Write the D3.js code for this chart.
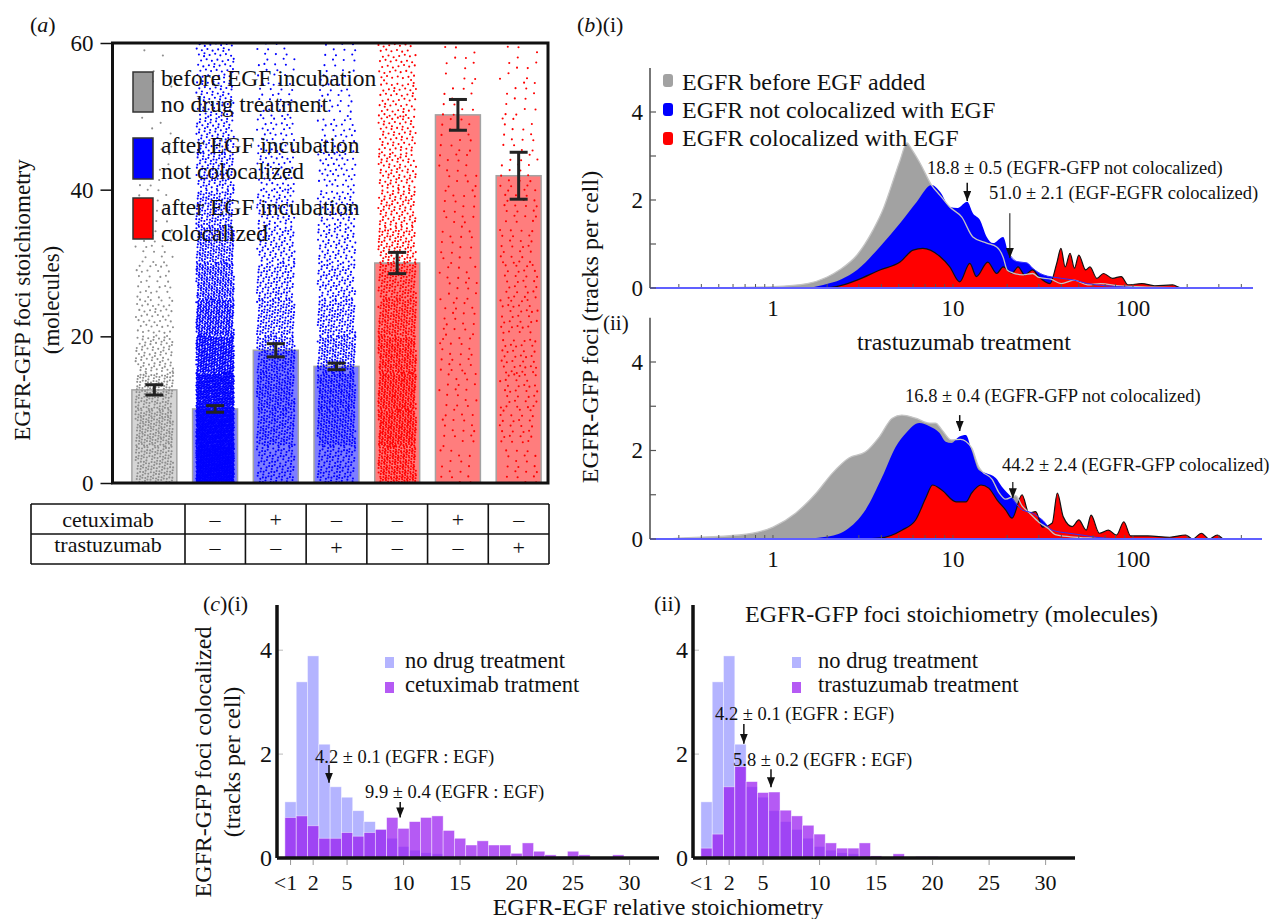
<!DOCTYPE html>
<html>
<head>
<meta charset="utf-8">
<script src="https://cdn.jsdelivr.net/npm/d3@7"></script>
<style>
  body { margin: 0; background: #fff; }
  svg text { font-family: "Liberation Serif", "Times New Roman", "DejaVu Serif", serif; fill: #111; }
</style>
</head>
<body>
<div id="fig"></div>
<script>
// ---------- data: panel (a) ----------
let conditions = ["before", "noDrug", "cetux", "trast", "colNoDrug", "colCetux", "colTrast"];
let conditionColor = ["gray", "blue", "blue", "blue", "red", "red", "red"];
let barMeans = [12.7, 10.1, 18.1, 15.9, 30.0, 50.2, 41.9];
let barErrors = [0.7, 0.45, 0.9, 0.45, 1.45, 2.1, 3.2];

// number of foci dots in each 5-molecule band (0-5, 5-10, ... 55-60)
let dotsBefore = [150, 175, 140, 80, 50, 32, 22, 15, 10, 7, 5, 4];
let dotsNoDrug = [900, 780, 600, 440, 330, 250, 185, 140, 110, 85, 68, 56];
let dotsCetux = [110, 165, 190, 180, 150, 115, 90, 70, 52, 40, 30, 22];
let dotsTrast = [120, 200, 215, 185, 140, 100, 78, 60, 46, 36, 27, 20];
let dotsColNoDrug = [230, 280, 270, 240, 190, 145, 110, 90, 75, 65, 55, 48];
let dotsColCetux = [15, 18, 18, 20, 18, 18, 16, 16, 16, 14, 13, 11];
let dotsColTrast = [20, 27, 32, 36, 32, 28, 24, 22, 18, 15, 13, 11];
let dotCounts = [dotsBefore, dotsNoDrug, dotsCetux, dotsTrast, dotsColNoDrug, dotsColCetux, dotsColTrast];

let cetuximabSigns = ["–", "+", "–", "–", "+", "–"];
let trastuzumabSigns = ["–", "–", "+", "–", "–", "+"];

// ---------- data: panel (b), [stoichiometry, tracks per cell] ----------
let grayI = [[0.3,0],[0.6,0.01],[1.0,0.03],[1.55,0.1],[2.0,0.25],[2.36,0.42],[2.93,0.75],[3.6,1.32],[4.1,1.8],[4.47,2.23],[5.08,2.9],[5.55,3.3],[5.9,3.15],[6.56,2.84],[7.6,2.34],[8.5,2.1],[9.6,1.84],[11.2,1.61],[12.9,1.16],[15.4,1.02],[17.5,0.93],[19,0.7],[20,0.41],[21.6,0.34],[24.5,0.3],[27.7,0.33],[30,0.24],[35,0.2],[40,0.1],[47,0.18],[56,0.07],[66,0.1],[84,0.05],[125,0.02],[200,0],[464,0]];
let blueI = [[0.3,0],[1.5,0],[1.9,0.07],[2.4,0.2],[2.93,0.41],[3.93,0.94],[5.08,1.47],[6.3,1.96],[7.6,2.34],[8.5,2.18],[9.6,1.84],[10.6,1.82],[12,1.96],[12.9,1.7],[14.1,1.55],[15.4,1.16],[16.7,1.02],[19,1.16],[20.3,0.8],[22.7,0.6],[25.8,0.57],[27.7,0.45],[31.7,0.3],[40,0.22],[47,0.18],[56,0.1],[71,0.05],[94,0.02],[130,0],[464,0]];
let redI = [[0.3,0],[1.9,0],[2.4,0.06],[2.93,0.18],[3.93,0.41],[5.08,0.59],[6.0,0.86],[6.8,0.9],[8.5,0.71],[9.6,0.48],[10.9,0.14],[12.4,0.56],[13.5,0.26],[15.6,0.59],[17.5,0.33],[19,0.48],[21.3,0.34],[23,0.48],[25,0.3],[27.7,0.41],[29.9,0.26],[34.6,0.1],[37.7,0.56],[39.8,0.9],[42,0.48],[44.7,0.79],[47.3,0.45],[50,0.75],[54.6,0.41],[57.7,0.48],[63,0.22],[68.6,0.33],[77,0.22],[86,0.26],[94,0.07],[112,0.1],[132,0.05],[166,0.07],[186,0],[464,0]];

let grayII = [[0.25,0],[0.3,0.02],[0.65,0.09],[1.0,0.27],[1.34,0.59],[1.74,1.04],[2.14,1.49],[2.64,1.83],[3.27,1.97],[3.9,2.31],[4.6,2.73],[5.2,2.8],[6.2,2.73],[7.4,2.62],[8.0,2.62],[8.7,2.46],[9.8,2.24],[11.0,2.25],[12.7,2.06],[13.9,1.63],[14.5,1.53],[16.5,1.35],[18,1.05],[19.6,0.9],[22.3,0.98],[24.2,0.75],[26.4,0.6],[30,0.38],[34,0.23],[37,0.1],[45,0.05],[60,0.02],[100,0],[495,0]];
let blueII = [[0.3,0],[1.34,0],[1.97,0.05],[2.54,0.2],[3.27,0.66],[4.04,1.4],[4.8,2.08],[5.5,2.4],[6.5,2.62],[7.4,2.55],[8.4,2.4],[9.1,2.2],[9.8,2.17],[10.8,2.31],[11.8,2.35],[12.7,2.0],[13.9,1.56],[15.2,1.49],[17.3,1.38],[18.7,1.18],[21.3,0.93],[24.2,0.66],[27.5,0.59],[31.4,0.43],[35.6,0.2],[44,0.13],[52,0.09],[62,0.04],[77,0.01],[100,0],[495,0]];
let redII = [[0.3,0],[2.9,0],[3.9,0.02],[5.2,0.2],[6.2,0.43],[7.1,0.95],[7.7,1.22],[8.7,1.1],[10.4,0.84],[11.8,0.84],[12.7,1.04],[14.3,1.22],[15.8,1.15],[17.6,0.88],[19.6,0.66],[21.3,0.47],[24.2,1.0],[26.4,0.59],[28.8,0.62],[31.4,0.27],[35.6,0.36],[38,1.04],[41,0.5],[46,0.28],[50,0.43],[55,0.2],[58.5,0.54],[65,0.13],[73,0.2],[81,0.09],[89,0.39],[97,0.07],[121,0.07],[160,0.04],[196,0.09],[215,0],[240,0.13],[265,0],[294,0.09],[320,0],[495,0]];

// ---------- data: panel (c), tracks per cell per stoichiometry bin (<1, 1, 2, ...) ----------
let noDrugHist = [1.08, 3.39, 3.89, 2.19, 1.37, 1.17, 0.91, 0.70, 0.55, 0.38, 0.22, 0.15, 0.1, 0.08, 0.03];
let cetuxHist = [0.78, 0.81, 0.62, 0.38, 0.38, 0.49, 0.42, 0.49, 0.55, 0.78, 0.57, 0.70, 0.78, 0.81, 0.53, 0.38, 0.25, 0.33, 0.25, 0.25, 0.09, 0.29, 0.13, 0.06, 0.03, 0.13, 0.06, 0.01, 0, 0.06, 0.02];
let trastHist = [0.19, 0.46, 1.37, 1.76, 1.47, 1.26, 1.27, 0.92, 0.81, 0.63, 0.46, 0.29, 0.19, 0.19, 0.29, 0.04, 0.01, 0.08, 0.02, 0.03, 0.03, 0.02, 0.02, 0.02];
let histTicks = [0, 2, 5, 10, 15, 20, 25, 30];
let histTickLabels = ["<1", "2", "5", "10", "15", "20", "25", "30"];

// ---------- svg ----------
let svg = d3.select("#fig").append("svg")
  .attr("width", 1274).attr("height", 919)
  .attr("font-family", "Liberation Serif, Times New Roman, serif");

svg.append("defs").append("marker")
  .attr("id", "arrow")
  .attr("viewBox", "0 0 10 8")
  .attr("refX", 10).attr("refY", 4)
  .attr("markerWidth", 10).attr("markerHeight", 8)
  .attr("markerUnits", "userSpaceOnUse")
  .attr("orient", "auto")
  .append("path").attr("d", "M0,0 L10,4 L0,8 Z").attr("fill", "#111");

// panel tag like (a), (b)(i)
function panelTag(x, y, letter, suffix) {
  let t = svg.append("text").attr("x", x).attr("y", y).attr("font-size", 22);
  t.append("tspan").text("(");
  if (letter) t.append("tspan").attr("font-style", "italic").text(letter);
  t.append("tspan").text(letter ? ")" + suffix : suffix);
}

function vLabel(x, y, txt, size) {
  svg.append("text")
    .attr("transform", `translate(${x},${y}) rotate(-90)`)
    .attr("text-anchor", "middle")
    .attr("dominant-baseline", "central")
    .attr("font-size", size)
    .text(txt);
}

function arrow(x, y0, y1, w) {
  svg.append("line")
    .attr("x1", x).attr("x2", x).attr("y1", y0).attr("y2", y1)
    .attr("stroke", "#111").attr("stroke-width", w)
    .attr("marker-end", "url(#arrow)");
}

// =============== panel (a) ===============
let aLeft = 112.5, aRight = 548, aTop = 43, aBottom = 483;
let aY = d3.scaleLinear().domain([0, 60]).range([aBottom, aTop]);
let aX = d3.scaleBand().domain(conditions).range([124, 549]).paddingInner(0.26).paddingOuter(0.13);
let fills = { gray: "#d5d5d5", blue: "#7d7dff", red: "#ff7d7d" };
let dotFills = { gray: "#8e8e8e", blue: "#0000ff", red: "#ff0000" };

panelTag(30, 32, "a", "");

let aG = svg.append("g");
svg.append("clipPath").attr("id", "aClip")
  .append("rect").attr("x", aLeft).attr("y", aTop).attr("width", aRight - aLeft).attr("height", aBottom - aTop);

aG.selectAll(".bar")
  .data(conditions)
  .join("rect")
  .attr("x", d => aX(d))
  .attr("width", aX.bandwidth())
  .attr("y", (d, i) => aY(barMeans[i]))
  .attr("height", (d, i) => aY(0) - aY(barMeans[i]))
  .attr("fill", (d, i) => fills[conditionColor[i]])
  .attr("stroke", "#a3a3a3")
  .attr("stroke-width", 1.5);

// jittered foci dots: low-discrepancy spread inside each band, one running sequence per bar
let dotG = aG.append("g").attr("clip-path", "url(#aClip)");
conditions.forEach((c, b) => {
  let pts = [];
  let k = 0;
  dotCounts[b].forEach((n, j) => {
    for (let i = 0; i < n; i++) {
      k++;
      let u = (0.37 + k * 0.7548776662 + b * 0.13) % 1;
      let w = (0.61 + k * 0.5698402910) % 1;
      pts.push([u, 5 * j + 5 * w]);
    }
  });
  let cx = aX(c) + aX.bandwidth() / 2;
  dotG.selectAll(".d" + b)
    .data(pts)
    .join("circle")
    .attr("cx", d => cx + (d[0] - 0.5) * aX.bandwidth() * 0.84)
    .attr("cy", d => aY(d[1]))
    .attr("r", 1.05)
    .attr("fill", dotFills[conditionColor[b]]);
});

// error bars
conditions.forEach((c, i) => {
  let cx = aX(c) + aX.bandwidth() / 2;
  let lo = aY(barMeans[i] - barErrors[i]), hi = aY(barMeans[i] + barErrors[i]);
  let eg = aG.append("g").attr("stroke", "#222").attr("stroke-width", 3);
  eg.append("line").attr("x1", cx).attr("x2", cx).attr("y1", lo).attr("y2", hi);
  eg.append("line").attr("x1", cx - 9).attr("x2", cx + 9).attr("y1", lo).attr("y2", lo);
  eg.append("line").attr("x1", cx - 9).attr("x2", cx + 9).attr("y1", hi).attr("y2", hi);
});

aG.append("rect")
  .attr("x", aLeft).attr("y", aTop)
  .attr("width", aRight - aLeft).attr("height", aBottom - aTop)
  .attr("fill", "none").attr("stroke", "#111").attr("stroke-width", 3);

let aAxis = aG.append("g")
  .attr("transform", `translate(${aLeft},0)`)
  .call(d3.axisLeft(aY).tickValues([0, 20, 40, 60]).tickSize(12).tickPadding(7));
aAxis.select(".domain").remove();
aAxis.selectAll("line").attr("stroke", "#111").attr("stroke-width", 1.5);
aAxis.selectAll("text").attr("font-size", 23).attr("fill", "#111");

vLabel(22, 300, "EGFR-GFP foci stoichiometry", 23);
vLabel(51, 300, "(molecules)", 23);

// legend (a)
let aLegend = [
  { color: "#9a9a9a", y0: 72, y1: 112, lines: ["before EGF incubation", "no drug treatment"], base: 86 },
  { color: "#0000ff", y0: 138, y1: 179, lines: ["after EGF incubation", "not colocalized"], base: 153 },
  { color: "#ff0000", y0: 198, y1: 239, lines: ["after EGF incubation", "colocalized"], base: 215 }
];
aLegend.forEach(l => {
  aG.append("rect").attr("x", 133).attr("y", l.y0).attr("width", 20).attr("height", l.y1 - l.y0)
    .attr("fill", l.color).attr("stroke", "#333").attr("stroke-width", 1.5);
  l.lines.forEach((t, k) => {
    aG.append("text").attr("x", 161).attr("y", l.base + k * 26).attr("font-size", 23.5).text(t);
  });
});

// drug table
let tg = svg.append("g").attr("stroke", "#111").attr("stroke-width", 1.6);
let tLeft = 31, tMid = 185, tRight = 549, tRows = [504, 534, 564];
tRows.forEach(y => tg.append("line").attr("x1", tLeft).attr("x2", tRight).attr("y1", y).attr("y2", y));
let colEdges = [tLeft, tMid].concat(conditions.slice(1).map(c => aX(c) + aX.bandwidth() / 2 + aX.step() / 2));
colEdges.forEach(x => tg.append("line").attr("x1", x).attr("x2", x).attr("y1", tRows[0]).attr("y2", tRows[2]));
svg.append("text").attr("x", 108).attr("y", 527).attr("text-anchor", "middle").attr("font-size", 22).text("cetuximab");
svg.append("text").attr("x", 108).attr("y", 552).attr("text-anchor", "middle").attr("font-size", 22).text("trastuzumab");
conditions.slice(1).forEach((c, i) => {
  let cx = aX(c) + aX.bandwidth() / 2;
  svg.append("text").attr("x", cx).attr("y", 527).attr("text-anchor", "middle").attr("font-size", 22).text(cetuximabSigns[i]);
  svg.append("text").attr("x", cx).attr("y", 555).attr("text-anchor", "middle").attr("font-size", 22).text(trastuzumabSigns[i]);
});

// =============== panel (b) ===============
let bX = d3.scaleLog().domain([0.2074, 495]).range([650, 1258]);

function drawDist(cfg) {
  let g = svg.append("g");
  let y = d3.scaleLinear().domain([0, 5]).range([cfg.zero, cfg.zero - 5 * cfg.unit]);
  let area = d3.area().x(d => bX(d[0])).y0(y(0)).y1(d => y(d[1])).curve(d3.curveMonotoneX);
  let line = d3.line().x(d => bX(d[0])).y(d => y(d[1])).curve(d3.curveMonotoneX);

  g.append("path").datum(cfg.gray).attr("d", area).attr("fill", "#a2a2a2");
  g.append("path").datum(cfg.blue).attr("d", area).attr("fill", "#0000ff");
  g.append("path").datum(cfg.red).attr("d", area).attr("fill", "#ff0000")
    .attr("stroke", "#111").attr("stroke-width", 1.2);
  g.append("path").datum(cfg.gray).attr("d", line).attr("fill", "none")
    .attr("stroke", "#c4c4c4").attr("stroke-width", 1.3);
  g.append("path").datum(cfg.blue.filter(d => d[0] > 20)).attr("d", line).attr("fill", "none")
    .attr("stroke", "#3030ff").attr("stroke-width", 1);

  // x axis (log)
  let minor = [];
  [0.1, 1, 10, 100].forEach(dec => d3.range(1, 10).forEach(k => {
    let v = dec * k;
    if (v >= 0.3 && v <= 400) minor.push(v);
  }));
  g.selectAll(".mt").data(minor).join("line")
    .attr("x1", d => bX(d)).attr("x2", d => bX(d))
    .attr("y1", cfg.zero).attr("y2", cfg.zero - 4)
    .attr("stroke", "#555").attr("stroke-width", 1);
  g.append("line").attr("x1", 650).attr("x2", cfg.axisEnd).attr("y1", cfg.zero).attr("y2", cfg.zero)
    .attr("stroke", "#6060ff").attr("stroke-width", 2);
  g.selectAll(".xl").data([1, 10, 100]).join("text")
    .attr("x", d => bX(d)).attr("y", cfg.zero + 28)
    .attr("text-anchor", "middle").attr("font-size", 23).text(d => d);

  // y axis
  g.append("line").attr("x1", 650).attr("x2", 650).attr("y1", cfg.zero).attr("y2", y(5))
    .attr("stroke", "#555").attr("stroke-width", 1.6);
  g.selectAll(".yt").data([0, 1, 2, 3, 4]).join("line")
    .attr("x1", 650).attr("x2", 656).attr("y1", d => y(d)).attr("y2", d => y(d))
    .attr("stroke", "#555").attr("stroke-width", 1.2);
  g.selectAll(".yl").data([0, 2, 4]).join("text")
    .attr("x", 643).attr("y", d => y(d)).attr("dominant-baseline", "central")
    .attr("text-anchor", "end").attr("font-size", 23).text(d => d);

  cfg.notes.forEach(n => {
    g.append("text").attr("x", n.tx).attr("y", n.ty).attr("font-size", 18.5).text(n.text);
    arrow(bX(n.at), y(n.from), y(n.to), n.w);
  });
  return y;
}

panelTag(577, 32, "b", "(i)");
drawDist({
  zero: 288, unit: 44, axisEnd: 1253, gray: grayI, blue: blueI, red: redI,
  notes: [
    { text: "18.8 ± 0.5 (EGFR-GFP not colocalized)", tx: 927, ty: 174, at: 12.0, from: 2.39, to: 1.98, w: 1.5 },
    { text: "51.0 ± 2.1 (EGF-EGFR colocalized)", tx: 989, ty: 199, at: 20.7, from: 1.7, to: 0.68, w: 1 }
  ]
});

// legend (b)
let bLegend = [["#a2a2a2", "EGFR before EGF added"], ["#0000ff", "EGFR not colocalized with EGF"], ["#ff0000", "EGFR colocalized with EGF"]];
bLegend.forEach((l, i) => {
  svg.append("rect").attr("x", 663).attr("y", 74 + i * 29).attr("width", 10).attr("height", 13).attr("rx", 3)
    .attr("fill", l[0]);
  svg.append("text").attr("x", 682).attr("y", 90 + i * 28).attr("font-size", 24).text(l[1]);
});
svg.append("text").attr("x", 964).attr("y", 350).attr("text-anchor", "middle").attr("font-size", 24).text("trastuzumab treatment");

svg.append("text").attr("x", 603).attr("y", 330).attr("font-size", 21).text("(ii)");
drawDist({
  zero: 539, unit: 44.25, axisEnd: 1262, gray: grayII, blue: blueII, red: redII,
  notes: [
    { text: "16.8 ± 0.4 (EGFR-GFP not colocalized)", tx: 905, ty: 402, at: 10.9, from: 2.8, to: 2.44, w: 1.5 },
    { text: "44.2 ± 2.4 (EGFR-GFP colocalized)", tx: 1002, ty: 471, at: 21.5, from: 1.29, to: 0.92, w: 1.2 }
  ]
});
vLabel(590, 327, "EGFR-GFP foci (tracks per cell)", 24);

// =============== panel (c) ===============
function drawHist(cfg) {
  let g = svg.append("g");
  let x = d3.scaleLinear().domain([-1.2, 32.6]).range([cfg.left, cfg.left + 382]);
  let y = d3.scaleLinear().domain([0, 4.87]).range([858, 605]);
  let w = x(1) - x(0);
  [[noDrugHist, "rgba(140,140,255,0.65)"], [cfg.drug, "rgba(150,20,240,0.7)"]].forEach(s => {
    g.append("g").selectAll("rect").data(s[0]).join("rect")
      .attr("x", (d, i) => x(i) - w / 2).attr("width", w)
      .attr("y", d => y(d)).attr("height", d => y(0) - y(d))
      .attr("fill", s[1]).attr("stroke", "rgba(255,255,255,0.6)").attr("stroke-width", 0.7);
  });
  g.selectAll(".xt").data(histTicks).join("line")
    .attr("x1", d => x(d)).attr("x2", d => x(d)).attr("y1", 860).attr("y2", 865)
    .attr("stroke", "#999").attr("stroke-width", 1);
  g.selectAll(".yt").data([2, 4]).join("line")
    .attr("x1", cfg.left).attr("x2", cfg.left + 6).attr("y1", d => y(d)).attr("y2", d => y(d))
    .attr("stroke", "#bbb").attr("stroke-width", 1);
  g.append("line").attr("x1", cfg.left).attr("x2", cfg.left + 382).attr("y1", 858).attr("y2", 858)
    .attr("stroke", "#111").attr("stroke-width", 3.5);
  g.append("line").attr("x1", cfg.left).attr("x2", cfg.left).attr("y1", 605).attr("y2", 858)
    .attr("stroke", "#111").attr("stroke-width", 3.5);
  g.selectAll(".xl").data(histTicks).join("text")
    .attr("x", (d, i) => x(d) - (i === 0 ? 5 : 0)).attr("y", 890)
    .attr("text-anchor", "middle").attr("font-size", 22).text((d, i) => histTickLabels[i]);
  g.selectAll(".yl").data([0, 2, 4]).join("text")
    .attr("x", cfg.left - 5).attr("y", d => y(d)).attr("dominant-baseline", "central")
    .attr("text-anchor", "end").attr("font-size", 24).text(d => d);

  // legend
  [["rgba(140,140,255,0.65)", "no drug treatment"], ["rgba(150,20,240,0.7)", cfg.drugName]].forEach((l, i) => {
    g.append("rect").attr("x", cfg.legX).attr("y", 657 + i * 25).attr("width", 9).attr("height", 11)
      .attr("fill", l[0]);
    g.append("text").attr("x", cfg.legX + cfg.legGap).attr("y", 668 + i * 24).attr("font-size", 22.5).text(l[1]);
  });

  cfg.notes.forEach(n => {
    g.append("text").attr("x", n.tx).attr("y", n.ty).attr("font-size", 18.5).text(n.text);
    arrow(x(n.at), y(n.from), y(n.to), 1.5);
  });
}

panelTag(203, 611, "c", "(i)");
drawHist({
  left: 277, drug: cetuxHist, drugName: "cetuximab tratment", legX: 385, legGap: 20,
  notes: [
    { text: "4.2 ± 0.1 (EGFR : EGF)", tx: 315, ty: 763, at: 3.4, from: 1.79, to: 1.45 },
    { text: "9.9 ± 0.4 (EGFR : EGF)", tx: 365, ty: 798, at: 9.7, from: 1.08, to: 0.78 }
  ]
});

svg.append("text").attr("x", 654).attr("y", 611).attr("font-size", 22).text("(ii)");
drawHist({
  left: 693, drug: trastHist, drugName: "trastuzumab treatment", legX: 792, legGap: 26,
  notes: [
    { text: "4.2 ± 0.1 (EGFR : EGF)", tx: 715, ty: 720, at: 3.3, from: 2.58, to: 2.2 },
    { text: "5.8 ± 0.2 (EGFR : EGF)", tx: 733, ty: 766, at: 5.7, from: 1.71, to: 1.36 }
  ]
});
svg.append("text").attr("x", 745).attr("y", 622).attr("font-size", 24).text("EGFR-GFP foci stoichiometry (molecules)");

vLabel(203, 762, "EGFR-GFP foci colocalized", 24);
vLabel(232, 762, "(tracks per cell)", 24);
svg.append("text").attr("x", 658).attr("y", 915).attr("text-anchor", "middle").attr("font-size", 24).text("EGFR-EGF relative stoichiometry");
</script>
</body>
</html>
